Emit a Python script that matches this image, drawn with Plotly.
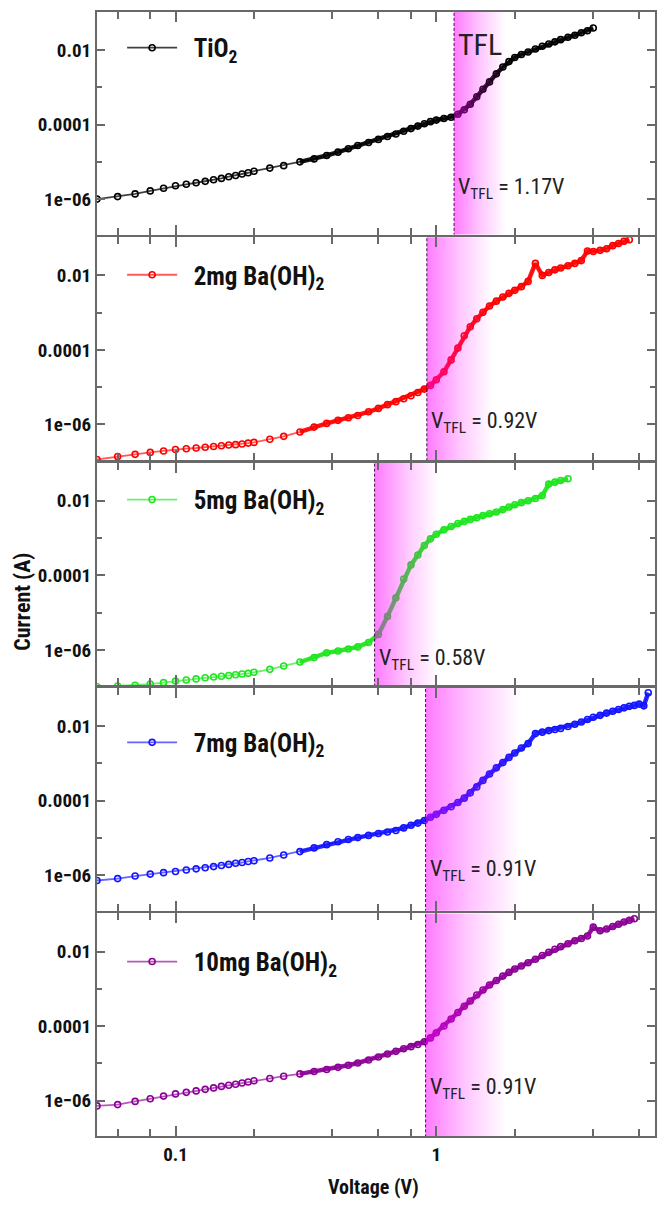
import numpy as np
import plotly.graph_objects as go
from plotly.subplots import make_subplots

# ---------------- data ----------------
V_GRID = [0.05, 0.06, 0.07, 0.08, 0.09, 0.10, 0.11, 0.12, 0.13, 0.14,
          0.15, 0.16, 0.17, 0.18, 0.19, 0.20, 0.23, 0.26, 0.30, 0.34,
          0.38, 0.42, 0.46, 0.50, 0.55, 0.60, 0.65, 0.70, 0.75, 0.80,
          0.85, 0.90, 0.95, 1.00, 1.07, 1.14, 1.21, 1.28, 1.35, 1.43,
          1.51, 1.60, 1.70, 1.80, 1.90, 2.00, 2.12, 2.25, 2.40, 2.55,
          2.70, 2.85, 3.00, 3.20, 3.40, 3.60, 3.80, 4.00, 4.25, 4.50,
          4.75, 5.00, 5.25, 5.50, 5.75, 6.00, 6.25, 6.50]

I_TIO2 = [1.0e-6, 1.17e-6, 1.38e-6, 1.66e-6, 1.95e-6, 2.29e-6, 2.5e-6, 2.75e-6, 3.0e-6, 3.3e-6,
          3.6e-6, 4.0e-6, 4.3e-6, 4.7e-6, 5.1e-6, 5.6e-6, 6.8e-6, 7.9e-6, 1.0e-5, 1.2e-5,
          1.48e-5, 1.82e-5, 2.24e-5, 2.75e-5, 3.3e-5, 4.0e-5, 4.8e-5, 5.6e-5, 6.6e-5, 7.8e-5,
          9.1e-5, 1.05e-4, 1.2e-4, 1.32e-4, 1.45e-4, 1.58e-4, 1.9e-4, 2.5e-4, 3.5e-4, 5.6e-4,
          8.9e-4, 1.4e-3, 2.3e-3, 3.5e-3, 4.9e-3, 6.3e-3, 7.6e-3, 8.9e-3, 1.07e-2, 1.26e-2,
          1.45e-2, 1.66e-2, 1.9e-2, 2.2e-2, 2.5e-2, 2.9e-2, 3.3e-2, 3.9e-2]

I_BA2 = [1.15e-7, 1.38e-7, 1.58e-7, 1.78e-7, 1.95e-7, 2.14e-7, 2.24e-7, 2.34e-7, 2.45e-7, 2.57e-7,
         2.69e-7, 2.82e-7, 2.88e-7, 3.0e-7, 3.16e-7, 3.3e-7, 4.0e-7, 4.8e-7, 6.3e-7, 8.5e-7,
         1.07e-6, 1.29e-6, 1.51e-6, 1.74e-6, 2.19e-6, 2.7e-6, 3.4e-6, 4.1e-6, 4.9e-6, 5.9e-6,
         7.2e-6, 8.9e-6, 1.12e-5, 1.58e-5, 2.6e-5, 5.4e-5, 1.12e-4, 2.4e-4, 4.2e-4, 6.9e-4,
         1.02e-3, 1.51e-3, 2.04e-3, 2.63e-3, 3.3e-3, 4.0e-3, 5.0e-3, 6.9e-3, 2.1e-2, 1.0e-2,
         1.2e-2, 1.41e-2, 1.58e-2, 1.82e-2, 2.1e-2, 2.5e-2, 4.5e-2, 4.4e-2, 4.7e-2, 5.2e-2,
         6.3e-2, 7.2e-2, 8.3e-2, 9.1e-2]

I_BA5 = [1.02e-7, 1.07e-7, 1.12e-7, 1.2e-7, 1.32e-7, 1.45e-7, 1.55e-7, 1.66e-7, 1.78e-7, 1.86e-7,
         1.95e-7, 2.04e-7, 2.14e-7, 2.24e-7, 2.34e-7, 2.5e-7, 3.0e-7, 3.7e-7, 4.7e-7, 6.2e-7,
         8.3e-7, 9.3e-7, 1.05e-6, 1.2e-6, 1.58e-6, 2.6e-6, 7.9e-6, 2.5e-5, 7.9e-5, 1.9e-4,
         3.5e-4, 6.3e-4, 9.5e-4, 1.26e-3, 1.66e-3, 2.04e-3, 2.45e-3, 2.8e-3, 3.16e-3, 3.5e-3,
         4.0e-3, 4.5e-3, 5.0e-3, 5.8e-3, 6.8e-3, 7.8e-3, 8.9e-3, 1.0e-2, 1.15e-2, 1.38e-2,
         2.8e-2, 3.16e-2, 3.5e-2, 3.9e-2]

I_BA7 = [7.2e-7, 8.1e-7, 9.5e-7, 1.07e-6, 1.17e-6, 1.26e-6, 1.38e-6, 1.48e-6, 1.58e-6, 1.7e-6,
         1.82e-6, 1.95e-6, 2.09e-6, 2.19e-6, 2.34e-6, 2.45e-6, 2.9e-6, 3.5e-6, 4.3e-6, 5.4e-6,
         6.6e-6, 7.9e-6, 9.1e-6, 1.02e-5, 1.17e-5, 1.32e-5, 1.45e-5, 1.58e-5, 1.86e-5, 2.19e-5,
         2.5e-5, 2.95e-5, 3.6e-5, 4.3e-5, 5.5e-5, 6.9e-5, 8.9e-5, 1.17e-4, 1.62e-4, 2.34e-4,
         3.5e-4, 5.2e-4, 7.6e-4, 1.05e-3, 1.45e-3, 1.9e-3, 2.6e-3, 3.4e-3, 6.3e-3, 6.9e-3,
         7.6e-3, 8.1e-3, 8.7e-3, 9.8e-3, 1.12e-2, 1.29e-2, 1.51e-2, 1.74e-2, 1.95e-2, 2.24e-2,
         2.5e-2, 2.8e-2, 3.1e-2, 3.4e-2, 3.6e-2, 3.9e-2, 3.5e-2, 7.9e-2]

I_BA10 = [7.2e-7, 7.8e-7, 9.5e-7, 1.12e-6, 1.32e-6, 1.51e-6, 1.66e-6, 1.82e-6, 2.0e-6, 2.19e-6,
          2.4e-6, 2.57e-6, 2.75e-6, 2.95e-6, 3.16e-6, 3.4e-6, 3.9e-6, 4.5e-6, 5.2e-6, 6.0e-6,
          6.8e-6, 7.8e-6, 8.9e-6, 1.02e-5, 1.23e-5, 1.48e-5, 1.78e-5, 2.09e-5, 2.45e-5, 2.8e-5,
          3.2e-5, 3.8e-5, 4.8e-5, 6.6e-5, 1.0e-4, 1.55e-4, 2.3e-4, 3.4e-4, 4.7e-4, 6.8e-4,
          9.3e-4, 1.26e-3, 1.66e-3, 2.19e-3, 2.75e-3, 3.4e-3, 4.1e-3, 5.0e-3, 6.2e-3, 7.8e-3,
          9.5e-3, 1.15e-2, 1.35e-2, 1.62e-2, 1.95e-2, 2.24e-2, 2.6e-2, 4.5e-2, 3.6e-2, 4.0e-2,
          4.7e-2, 5.4e-2, 6.2e-2, 6.9e-2, 7.6e-2]

SERIES_NAMES = ["TiO<sub>2</sub>", "2mg Ba(OH)<sub>2</sub>", "5mg Ba(OH)<sub>2</sub>",
                "7mg Ba(OH)<sub>2</sub>", "10mg Ba(OH)<sub>2</sub>"]
SERIES_I = [I_TIO2, I_BA2, I_BA5, I_BA7, I_BA10]
V_TFL = [1.17, 0.92, 0.58, 0.91, 0.91]
V_TFL_TEXT = ["1.17V", "0.92V", "0.58V", "0.91V", "0.91V"]
SHADE_END = [1.85, 1.65, 1.02, 2.1, 1.85]
LABEL_Y = [1.9e-6, 1.1e-6, 5.4e-7, 1.35e-6, 2.1e-6]

X_RANGE = [0.05, 6.9]
Y_RANGE = [1.12e-7, 0.105]
Y_TICKS = [1e-6, 1e-4, 1e-2]
Y_TICKTEXT = ["1e\u221206", "0.0001", "0.01"]
Y_MINOR = [1e-7, 1e-5, 1e-3, 1e-1]
X_TICKS = [0.1, 1]
X_TICKTEXT = ["0.1", "1"]
X_MINOR = [0.06, 0.08, 0.2, 0.4, 0.6, 0.8, 2, 4, 6]
DENSE_FROM = 0.3   # above this voltage the measured points overlap into a solid band

# ---------------- styles ----------------
COLORS = ["rgb(0,0,0)", "rgb(255,0,0)", "rgb(30,230,30)", "rgb(20,20,255)", "rgb(140,0,150)"]
LINE_COLORS = ["rgba(0,0,0,0.75)", "rgba(255,0,0,0.65)", "rgba(30,230,30,0.65)",
               "rgba(20,20,255,0.65)", "rgba(140,0,150,0.65)"]
FONT = "Roboto Condensed, DejaVu Sans Condensed, sans-serif"
AXIS_COLOR = "rgb(105,105,105)"
LEGEND_Y = [0.968, 0.766, 0.566, 0.350, 0.155]

fig = make_subplots(rows=5, cols=1, shared_xaxes=True, vertical_spacing=0.0025)

for k in range(5):
    row = k + 1
    cur = SERIES_I[k]
    volt = V_GRID[:len(cur)]
    leg = "legend" if k == 0 else f"legend{k + 1}"
    # dense part of the sweep: overlapping markers form a thick band
    dense_v = [v for v in volt if v >= DENSE_FROM]
    dense_i = [c for v, c in zip(volt, cur) if v >= DENSE_FROM]
    fig.add_trace(go.Scatter(
        x=dense_v, y=dense_i, mode="lines",
        line=dict(color=COLORS[k], width=4.5), opacity=0.9,
        legend=leg, showlegend=False, hoverinfo="skip"), row=row, col=1)
    fig.add_trace(go.Scatter(
        x=volt, y=cur, mode="lines+markers", name="\u00a0\u00a0" + SERIES_NAMES[k],
        line=dict(color=LINE_COLORS[k], width=1.8),
        marker=dict(symbol="circle-open", size=6, color=COLORS[k], line=dict(width=1.6)),
        legend=leg, showlegend=True, hoverinfo="x+y"), row=row, col=1)
    # TFL shaded region (semi-transparent magenta fading out to the right)
    fig.add_trace(go.Scatter(
        x=[V_TFL[k], SHADE_END[k], SHADE_END[k], V_TFL[k], V_TFL[k]],
        y=[1e-9, 1e-9, 10, 10, 1e-9], mode="none", fill="toself",
        fillgradient=dict(type="horizontal",
                          colorscale=[[0, "rgba(255,0,255,0.52)"], [0.5, "rgba(255,0,255,0.22)"],
                                      [1, "rgba(255,0,255,0.0)"]]),
        showlegend=False, hoverinfo="skip"), row=row, col=1)
    # V_TFL dashed marker line
    fig.add_trace(go.Scatter(
        x=[V_TFL[k], V_TFL[k]], y=[1e-9, 10], mode="lines",
        line=dict(color="rgba(50,0,50,0.9)", width=1, dash="3px,2px"),
        showlegend=False, hoverinfo="skip"), row=row, col=1)

    fig.add_annotation(
        x=np.log10(V_TFL[k]), y=np.log10(LABEL_Y[k]), xref=f"x{row}" if row > 1 else "x",
        yref=f"y{row}" if row > 1 else "y", xanchor="left", yanchor="middle", xshift=2,
        text=f"V<sub>TFL</sub> = {V_TFL_TEXT[k]}", showarrow=False,
        font=dict(family=FONT, size=22, color="#222"))

    fig.update_yaxes(
        type="log", range=[np.log10(Y_RANGE[0]), np.log10(Y_RANGE[1])],
        tickvals=Y_TICKS, ticktext=Y_TICKTEXT, ticks="inside", ticklen=8, tickwidth=2,
        tickcolor=AXIS_COLOR, showline=True, linecolor=AXIS_COLOR, linewidth=2,
        mirror="allticks", showgrid=False, zeroline=False,
        tickfont=dict(family=FONT, size=19, color="#111", weight="bold"),
        minor=dict(tickvals=Y_MINOR, ticks="inside", ticklen=5, tickwidth=2,
                   tickcolor=AXIS_COLOR, showgrid=False),
        row=row, col=1)
    fig.update_xaxes(
        type="log", range=[np.log10(X_RANGE[0]), np.log10(X_RANGE[1])],
        tickvals=X_TICKS, ticktext=X_TICKTEXT, ticks="inside", ticklen=10, tickwidth=2,
        tickcolor=AXIS_COLOR, showline=True, linecolor=AXIS_COLOR, linewidth=2,
        mirror="allticks", showgrid=False, zeroline=False,
        showticklabels=(row == 5),
        tickfont=dict(family=FONT, size=19, color="#111", weight="bold"),
        minor=dict(tickvals=X_MINOR, ticks="inside", ticklen=7, tickwidth=2,
                   tickcolor=AXIS_COLOR, showgrid=False),
        row=row, col=1)

# TFL text in the top panel
fig.add_annotation(x=np.log10(V_TFL[0]), y=np.log10(0.0145), xref="x", yref="y",
                   xanchor="left", yanchor="middle", xshift=2, text="TFL", showarrow=False,
                   font=dict(family=FONT, size=30, color="#222"))

# axis titles
fig.add_annotation(x=-0.135, y=0.475, xref="paper", yref="paper", text="Current (A)",
                   textangle=-90, showarrow=False, xanchor="center", yanchor="middle",
                   font=dict(family=FONT, size=22, color="#111", weight="bold"))
fig.add_annotation(x=0.495, y=-0.045, xref="paper", yref="paper", text="Voltage (V)",
                   showarrow=False, xanchor="center", yanchor="middle",
                   font=dict(family=FONT, size=20, color="#111", weight="bold"))

layout_legends = {}
for k in range(5):
    key = "legend" if k == 0 else f"legend{k + 1}"
    layout_legends[key] = dict(x=0.045, y=LEGEND_Y[k], xanchor="left", yanchor="middle",
                               bgcolor="rgba(0,0,0,0)", borderwidth=0, itemwidth=50,
                               font=dict(family=FONT, size=25, color="#111", weight="bold"))

fig.update_layout(
    width=659, height=1207, paper_bgcolor="white", plot_bgcolor="white",
    font=dict(family=FONT),
    margin=dict(l=97, r=2, t=12, b=71), **layout_legends)

fig.write_html("out.html")
